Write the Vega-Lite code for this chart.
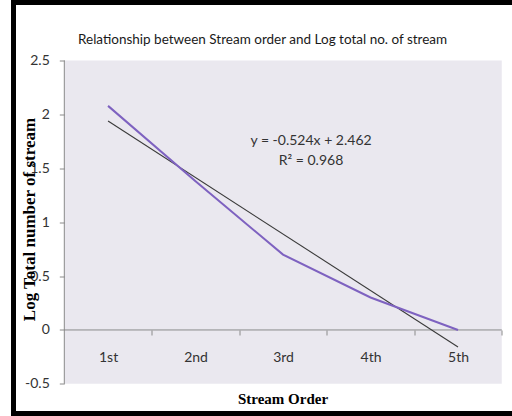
{
  "$schema": "https://vega.github.io/schema/vega-lite/v6.json",
  "width": 498.5,
  "height": 411,
  "autosize": {"type": "none"},
  "padding": {"left": 13.5, "top": 2.5, "right": 0, "bottom": 2.5},
  "background": "white",
  "title": {
    "text": "Relationship between Stream order and Log total no. of stream",
    "anchor": "start",
    "frame": "group",
    "dx": 64.5,
    "offset": -48,
    "font": "Lato",
    "fontSize": 13.5,
    "fontWeight": "normal",
    "color": "#1a1a1a"
  },
  "datasets": {
    "streams": [
      {"order": 1, "label": "1st", "log_total": 2.079},
      {"order": 2, "label": "2nd", "log_total": 1.38},
      {"order": 3, "label": "3rd", "log_total": 0.699},
      {"order": 4, "label": "4th", "log_total": 0.301},
      {"order": 5, "label": "5th", "log_total": 0.0}
    ],
    "trend": [
      {"order": 1, "log_total": 1.938},
      {"order": 5, "log_total": -0.158}
    ],
    "one": [{}]
  },
  "config": {
    "view": {"fill": "white", "stroke": null},
    "axis": {"grid": false}
  },
  "layer": [
    {
      "data": {"name": "one"},
      "mark": {"type": "rect", "color": "#EAE8EF"},
      "encoding": {
        "x": {"datum": 0.5, "type": "quantitative", "scale": {"domain": [-0.0806, 5.617], "nice": false, "zero": false}},
        "x2": {"datum": 5.5},
        "y": {"datum": -0.5, "type": "quantitative", "scale": {"domain": [-0.775, 3.038], "nice": false, "zero": false}},
        "y2": {"datum": 2.5}
      }
    },
    {
      "data": {"name": "one"},
      "mark": {"type": "rule", "color": "black", "strokeWidth": 5, "strokeCap": "butt"},
      "encoding": {
        "x": {"datum": -0.0806, "type": "quantitative"},
        "x2": {"datum": 5.617},
        "y": {"datum": 3.038, "type": "quantitative"}
      }
    },
    {
      "data": {"name": "one"},
      "mark": {"type": "rule", "color": "black", "strokeWidth": 5, "strokeCap": "butt"},
      "encoding": {
        "x": {"datum": -0.0806, "type": "quantitative"},
        "x2": {"datum": 5.617},
        "y": {"datum": -0.775, "type": "quantitative"}
      }
    },
    {
      "data": {"name": "one"},
      "mark": {"type": "rule", "color": "black", "strokeWidth": 5, "strokeCap": "square"},
      "encoding": {
        "x": {"datum": -0.0806, "type": "quantitative"},
        "y": {"datum": -0.775, "type": "quantitative"},
        "y2": {"datum": 3.038}
      }
    },
    {
      "data": {"name": "one"},
      "mark": {"type": "rule", "color": "#8a8a8a", "strokeWidth": 1},
      "encoding": {
        "x": {"datum": 0.5, "type": "quantitative"},
        "y": {"datum": -0.5, "type": "quantitative"},
        "y2": {"datum": 2.5}
      }
    },
    {
      "data": {"name": "one"},
      "mark": {"type": "rule", "color": "#8a8a8a", "strokeWidth": 1},
      "encoding": {
        "x": {"datum": 0.5, "type": "quantitative"},
        "x2": {"datum": 5.5},
        "y": {"datum": 0, "type": "quantitative"}
      }
    },
    {
      "data": {"name": "trend"},
      "mark": {"type": "line", "color": "#3a3a3a", "strokeWidth": 1.1},
      "encoding": {
        "x": {"field": "order", "type": "quantitative"},
        "y": {"field": "log_total", "type": "quantitative"}
      }
    },
    {
      "data": {"name": "streams"},
      "mark": {"type": "line", "color": "#7E62C0", "strokeWidth": 2},
      "encoding": {
        "x": {
          "field": "order",
          "type": "quantitative",
          "scale": {"domain": [-0.0806, 5.617], "nice": false, "zero": false},
          "axis": {
            "zindex": 2,
            "values": [1, 2, 3, 4, 5],
            "orient": "bottom",
            "offset": -83.5,
            "domain": false,
            "ticks": true,
            "tickSize": 5,
            "tickColor": "#8a8a8a",
            "tickOffset": 43.75,
            "labelOffset": -43.75,
            "labelExpr": "['1st','2nd','3rd','4th','5th'][datum.value - 1]",
            "labelFont": "Lato",
            "labelFontSize": 14,
            "labelColor": "#333333",
            "labelPadding": 15,
            "title": "Stream Order",
            "titleFont": "Liberation Serif",
            "titleFontSize": 15,
            "titleFontWeight": "bold",
            "titleColor": "#000000",
            "titleX": 269,
            "titleY": 68.3,
            "titleBaseline": "middle",
            "titleAlign": "center"
          }
        },
        "y": {
          "field": "log_total",
          "type": "quantitative",
          "scale": {"domain": [-0.775, 3.038], "nice": false, "zero": false},
          "axis": {
            "zindex": 2,
            "values": [-0.5, 0, 0.5, 1, 1.5, 2, 2.5],
            "offset": -50.8,
            "domain": false,
            "tickSize": 5,
            "tickColor": "#8a8a8a",
            "labelExpr": "'' + datum.value",
            "labelFont": "Lato",
            "labelFontSize": 14,
            "labelColor": "#333333",
            "labelPadding": 10,
            "title": "Log Total number of stream",
            "titleFont": "Liberation Serif",
            "titleFontSize": 17,
            "titleFontWeight": "bold",
            "titleColor": "#000000",
            "titleX": -35.3,
            "titleY": 216.5,
            "titleBaseline": "middle",
            "titleAlign": "center",
            "titleAngle": -90
          }
        }
      }
    },
    {
      "data": {"name": "one"},
      "mark": {"type": "text", "font": "Lato", "fontSize": 14, "color": "#333333", "align": "center", "baseline": "alphabetic", "lineHeight": 20},
      "encoding": {
        "x": {"datum": 3.32, "type": "quantitative"},
        "y": {"datum": 1.716, "type": "quantitative"},
        "text": {"value": ["y = -0.524x + 2.462", "R² = 0.968"]}
      }
    }
  ]
}
